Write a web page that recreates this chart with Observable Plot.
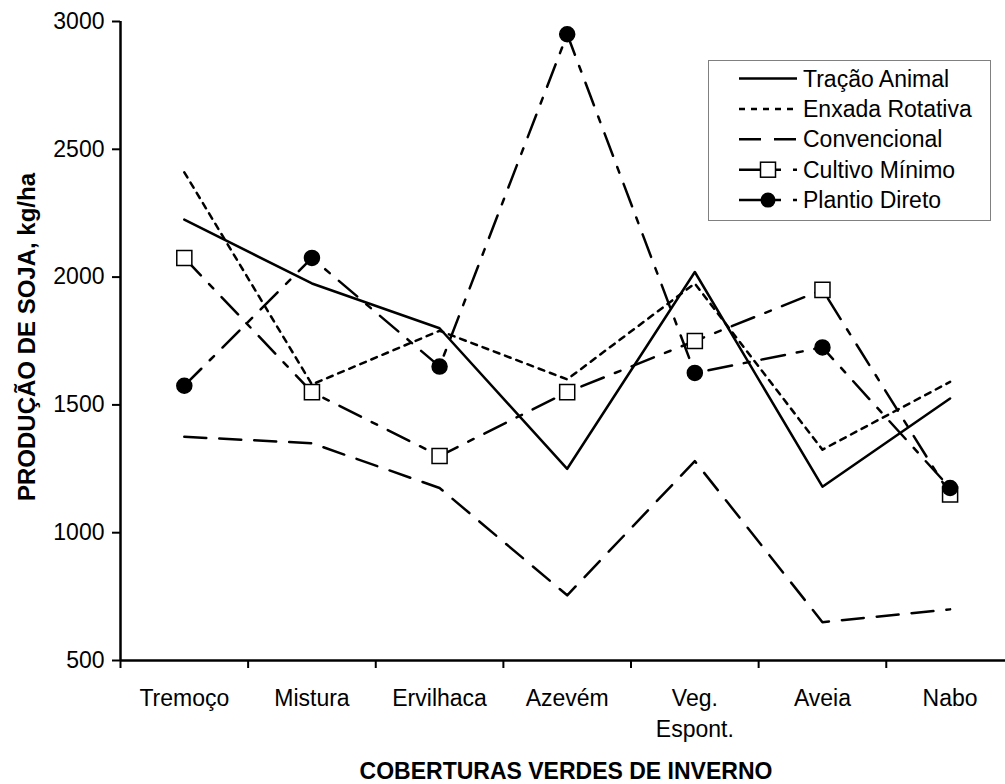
<!DOCTYPE html>
<html><head><meta charset="utf-8">
<script src="https://cdn.jsdelivr.net/npm/d3@7"></script>
<script src="https://cdn.jsdelivr.net/npm/@observablehq/plot@0.6"></script>
<style>
body{margin:0;background:#fff;}
#wrap{position:relative;width:1005px;height:784px;overflow:hidden;font-family:"Liberation Sans",Arial,sans-serif;}
#legend{position:absolute;left:708px;top:60px;}
</style></head><body><div id="wrap"></div>
<script>
const categories = ["Tremoço","Mistura","Ervilhaca","Azevém","Veg.\nEspont.","Aveia","Nabo"];
const tracaoAnimal   = [2225,1975,1800,1250,2020,1180,1525];
const enxadaRotativa = [2410,1580,1790,1600,1975,1325,1590];
const convencional   = [1375,1350,1175, 755,1280, 650, 700];
const cultivoMinimo  = [2075,1550,1300,1550,1750,1950,1150];
const plantioDireto  = [1575,2075,1650,2950,1625,1725,1175];
const seriesNames = ["Tração Animal","Enxada Rotativa","Convencional","Cultivo Mínimo","Plantio Direto"];
const yTicks = [500,1000,1500,2000,2500,3000];
const xTitle = "COBERTURAS VERDES DE INVERNO";
const yTitle = "PRODUÇÃO DE SOJA, kg/ha";

const allSeries = [tracaoAnimal, enxadaRotativa, convencional, cultivoMinimo, plantioDireto];
const styles = [
  {dash: null},
  {dash: "6,6"},
  {dash: "22,13"},
  {dash: "24,12,6,12", symbol: "square", fill: "white", r: 8.5},
  {dash: "24,12,6,12", symbol: "circle", fill: "black", r: 7.5}
];
const rows = allSeries.map((vals, s) => vals.map((v, i) => ({i, v, s})));
const font = '"Liberation Sans", Arial, sans-serif';
const FS = 23;

const marks = [
  Plot.ruleX([-0.5], {stroke: "black", strokeWidth: 2.5}),
  Plot.ruleY([500], {stroke: "black", strokeWidth: 2.5}),
  Plot.axisY(yTicks, {tickSize: 8, tickPadding: 8, strokeWidth: 2, label: null, fontSize: FS, tickFormat: d => String(d)}),
  Plot.axisX(d3.range(-0.5, 7, 1), {tickSize: 8, strokeWidth: 2, tickFormat: () => "", label: null}),
  Plot.axisX(d3.range(0, 7), {tickSize: 0, tickPadding: 23, tickFormat: i => categories[i], lineHeight: 1.35, label: null, fontSize: FS}),
  Plot.text([yTitle], {frameAnchor: "left", dx: -93, dy: -4, rotate: -90, text: d => d, textAnchor: "middle", lineAnchor: "middle", fontWeight: "bold", fontSize: 24}),
  Plot.text([xTitle], {frameAnchor: "bottom", dx: 3, dy: 111, text: d => d, textAnchor: "middle", lineAnchor: "middle", fontWeight: "bold", fontSize: FS})
];
rows.forEach((data, s) => {
  marks.push(Plot.line(data, {x: "i", y: "v", stroke: "black", strokeWidth: 2.5, strokeDasharray: styles[s].dash}));
});
rows.forEach((data, s) => {
  const st = styles[s];
  if (st.symbol) marks.push(Plot.dot(data, {x: "i", y: "v", symbol: st.symbol, r: st.r, fill: st.fill, stroke: "black", strokeWidth: 1.5}));
});

const chart = Plot.plot({
  width: 1005, height: 784,
  marginLeft: 120, marginRight: 0, marginTop: 21, marginBottom: 124,
  x: {type: "linear", domain: [-0.5, 6.5], range: [120, 1013.4], axis: null},
  y: {domain: [500, 3000], range: [660, 21], axis: null},
  style: {fontFamily: font, fontSize: FS + "px", color: "black", background: "white", overflow: "visible"},
  marks
});
const wrap = document.getElementById("wrap");
wrap.appendChild(chart);

// legend
const leg = d3.select(wrap).append("svg").attr("id", "legend").attr("width", 283).attr("height", 161)
  .style("font-family", font);
leg.append("rect").attr("x", 0.5).attr("y", 0.5).attr("width", 282).attr("height", 160)
  .attr("fill", "white").attr("stroke", "#808080").attr("stroke-width", 1);
seriesNames.forEach((name, k) => {
  const y = 18.5 + 30.4 * k;
  const st = styles[k];
  leg.append("line").attr("x1", 31).attr("x2", 89).attr("y1", y).attr("y2", y)
    .attr("stroke", "black").attr("stroke-width", 2.5).attr("stroke-dasharray", st.dash);
  if (st.symbol === "square") {
    leg.append("rect").attr("x", 60 - 7.5).attr("y", y - 7.5).attr("width", 15).attr("height", 15)
      .attr("fill", "white").attr("stroke", "black").attr("stroke-width", 1.5);
  } else if (st.symbol === "circle") {
    leg.append("circle").attr("cx", 60).attr("cy", y).attr("r", 7.5).attr("fill", "black");
  }
  leg.append("text").attr("x", 95).attr("y", y).attr("dy", "0.35em").attr("font-size", FS).text(name);
});
</script></body></html>
